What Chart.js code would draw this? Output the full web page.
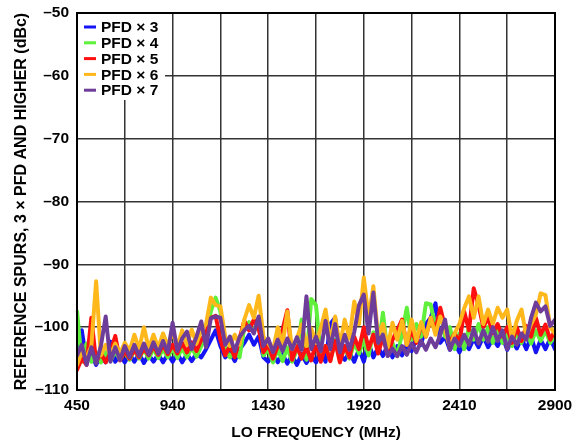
<!DOCTYPE html>
<html lang="en">
<head>
<meta charset="UTF-8">
<title>Reference spurs vs LO frequency</title>
<script src="https://cdn.jsdelivr.net/npm/chart.js"></script>
<style>
  html, body { margin: 0; padding: 0; background: #fff; }
</style>
</head>
<body>
<canvas id="myChart" width="585" height="444"></canvas>
<script>
    // sampling grid of the sweep (MHz)
    const freqStart = 450;
    const freqStep = 24.5;

    const xTicks = [450, 695, 940, 1185, 1430, 1675, 1920, 2165, 2410, 2655, 2900];
    const xLabels = [450, 940, 1430, 1920, 2410, 2900];
    const yTicks = [-110, -100, -90, -80, -70, -60, -50];

    const seriesNames = ['PFD × 3', 'PFD × 4', 'PFD × 5', 'PFD × 6', 'PFD × 7'];
    const seriesColors = ['#1414f5', '#5ef03a', '#ff1010', '#ffb81c', '#6e3d9a'];

    // values, dBc
    const pfd3 = [
        -105.8, -100.5, -105.5, -104.3, -106, -104.5, -105.6, -102.3, -105.5, -104.4,
        -105.6, -104.3, -105.5, -104.2, -105.7, -104.4, -105.5, -104.3, -105.6, -104.3,
        -105.5, -104.2, -105.6, -104.3, -105.4, -104.2, -104.8, -103.5, -102, -100.5,
        -103, -104.8, -104, -105.4, -103.6, -102.5, -101.2, -102.8, -101.5, -104.8,
        -105.5, -104.2, -105.6, -104.3, -105.8, -104.5, -106, -104.3, -105.7, -104.5,
        -105.6, -103.8, -105.5, -99.5, -98.5, -104.5, -105.2, -104, -105.5, -103.5,
        -105.5, -102.5, -104.8, -103.2, -104.6, -102.8, -104.8, -103, -104.5, -102.8,
        -103.8, -101.8, -102.8, -99.5, -98.5, -96.2, -102.5, -101.5, -103.6, -102.5,
        -104, -102.5, -103.5, -101.8, -103.2, -101.5, -103.2, -101.8, -103, -101.5,
        -103.6, -102, -103.4, -101.8, -103.5, -101.5, -104, -102, -103.5, -101.8,
        -103.5
    ];
    const pfd4 = [
        -97.5, -105.5, -102.6, -105.5, -104, -105.6, -104, -105.4, -103.8, -105.2,
        -103.8, -105.2, -103.6, -105, -103.5, -105, -103.4, -104.9, -103.5, -104.8,
        -103.4, -104.9, -103.3, -104.8, -103.2, -104.7, -103, -101.5, -97.5, -95.3,
        -97.5, -103.5, -104.8, -103.6, -104.8, -100, -99.2, -100.8, -98.5, -104.5,
        -103.5, -105.6, -103.5, -105.4, -103.2, -105.5, -103.6, -98.8, -105.2, -95.5,
        -96.5, -104.5, -103, -105.3, -102, -105.2, -103.2, -105, -102.5, -104.2,
        -102, -104.5, -100.8, -103.8, -97.7, -104.2, -102.5, -104.6, -101, -96.9,
        -102, -99.5, -101.5, -96.2, -96.4, -100, -97.5, -101.5, -100, -103.5,
        -101, -103.5, -100, -102, -99.5, -102, -100, -102.5, -100.5, -102.5,
        -101, -103, -100.8, -102.5, -100.5, -102.6, -100.5, -102.2, -100.5, -102.5,
        -101.2
    ];
    const pfd5 = [
        -106.8, -105, -106, -98.5, -105.5, -104.2, -105.6, -104, -101.4, -105.3,
        -103.8, -105, -103.6, -104.8, -103.4, -104.5, -103, -104.4, -102.8, -104.3,
        -102.8, -104.2, -102.5, -104, -102.4, -103.8, -102, -101, -98.5, -98.2,
        -102, -104.5, -103, -104.8, -101.8, -99, -100.5, -98.8, -100.2, -104,
        -102.8, -105, -103, -100.4, -97.3, -105.2, -103, -105, -103.2, -105.3,
        -102.5, -105.5, -103, -105.4, -102.2, -105.6, -103, -104.8, -101.5, -103.5,
        -100, -103.5, -101.2, -104.2, -101.5, -104.5, -102, -100.5, -98.8, -102.8,
        -100.5, -102.5, -99.5, -101.5, -98.5, -100.5, -96.9, -100, -102.5, -101,
        -102.5, -97.5, -100.5, -93.8, -96.5, -100, -98.5, -101, -99.5, -101.5,
        -100, -102.5, -100, -102.2, -99.8, -101.5, -98.5, -101.2, -99.6, -102,
        -100.5
    ];
    const pfd6 = [
        -106, -104, -104.8, -103, -92.7, -104.5, -102.8, -104.5, -102.6, -104.2,
        -102.5, -103.8, -101.2, -103.5, -100, -103.4, -101.2, -103.3, -101, -103,
        -100.8, -103, -100.5, -102.8, -100.4, -102.6, -100.5, -99.5, -95.3, -96.5,
        -96.7, -101.5, -103, -101.2, -102.8, -98.8, -96.5, -98.5, -95, -101.5,
        -102.5, -103.8, -100, -102.8, -97.5, -103.5, -101.8, -99.6, -103, -100.2,
        -102.5, -100.2, -97.2, -102.5, -98.3, -103, -98.8, -101.8, -95.9, -99.5,
        -92.1, -98.5, -93.5, -101.5, -99.5, -103.2, -99.3, -102, -99, -102.8,
        -98.8, -102.2, -99.2, -101.5, -98.5, -101.2, -98.3, -100.5, -103.2, -101,
        -99.5, -97, -95.1, -98.5, -95.1, -99.5, -97.2, -99.5, -96.9, -98.5,
        -97.2, -101.8, -99, -97.2, -101.5, -99.5, -98, -94.6, -94.9, -100,
        -101
    ];
    const pfd7 = [
        -104.5, -102.8, -106, -103.2, -105.8, -103, -98.3, -105.5, -103.2, -105.2,
        -103, -104.8, -102.8, -104.6, -102.6, -104.4, -102.4, -104.2, -102.2, -104,
        -99.3, -103.8, -101.8, -100.7, -103.5, -101.5, -99.1, -103.2, -98.6, -98.3,
        -98.5, -102.8, -101.5, -103.8, -101.6, -100.5, -99.8, -101, -98.3, -103,
        -101.8, -104, -102, -103.8, -101.8, -103.5, -101.6, -103.6, -95.1, -103.5,
        -101.5, -103.8, -99, -103.5, -99.5, -104, -101.2, -103.6, -100.8, -96.5,
        -94.8, -101, -94.5, -102.5, -101.2, -104.6, -103.4, -104.6, -103, -104.4,
        -102.6, -104, -102.2, -103.6, -101.8, -103.2, -101.2, -98.8, -103.6, -101.8,
        -103, -101.2, -102.8, -100.3, -102.6, -100.5, -102.3, -100, -102.2, -100.5,
        -103.5, -101.5, -102.8, -101, -102, -98.5, -96.1, -97.5, -96.7, -99.8,
        -98.8
    ];

    const allSeries = [pfd3, pfd4, pfd5, pfd6, pfd7];
    const fontFamily = '"Liberation Sans", Arial, Helvetica, sans-serif';

    function toPoints(values) {
        return values.map((v, i) => ({ x: freqStart + i * freqStep, y: v }));
    }

    // legend inside the plot + black frame
    const frameAndLegend = {
        id: 'frameAndLegend',
        afterDraw(chart) {
            const ctx = chart.ctx;
            const a = chart.chartArea;
            ctx.save();
            ctx.fillStyle = '#fff';
            ctx.fillRect(a.left, a.top, 88, 87);
            ctx.font = 'bold 15.5px ' + fontFamily;
            ctx.textBaseline = 'middle';
            ctx.textAlign = 'left';
            for (let k = 0; k < seriesNames.length; k++) {
                const y = a.top + 14 + k * 15.8;
                ctx.strokeStyle = seriesColors[k];
                ctx.lineWidth = 3;
                ctx.beginPath();
                ctx.moveTo(a.left + 7, y);
                ctx.lineTo(a.left + 19, y);
                ctx.stroke();
                ctx.fillStyle = '#000';
                ctx.fillText(seriesNames[k], a.left + 24, y + 1);
            }
            ctx.strokeStyle = '#000';
            ctx.lineWidth = 2;
            ctx.strokeRect(a.left, a.top, a.right - a.left, a.bottom - a.top);
            ctx.restore();
        }
    };

    const datasets = allSeries.map((vals, k) => ({
        label: seriesNames[k],
        data: toPoints(vals),
        borderColor: seriesColors[k],
        backgroundColor: seriesColors[k],
        borderWidth: 4,
        borderJoinStyle: 'round',
        borderCapStyle: 'round',
        pointRadius: 0,
        tension: 0,
        fill: false,
        order: allSeries.length - k
    }));

    new Chart(document.getElementById('myChart'), {
        type: 'line',
        data: { datasets: datasets },
        options: {
            responsive: false,
            animation: false,
            layout: { padding: { top: 13, right: 30, left: 0, bottom: 0 } },
            plugins: {
                legend: { display: false },
                tooltip: { enabled: false }
            },
            scales: {
                x: {
                    type: 'linear',
                    min: 450,
                    max: 2900,
                    afterBuildTicks: (scale) => { scale.ticks = xTicks.map(v => ({ value: v })); },
                    afterFit: (scale) => {
                        scale.height = 54;
                        scale.paddingLeft = 0;
                        scale.paddingRight = 0;
                    },
                    ticks: {
                        autoSkip: false,
                        maxRotation: 0,
                        padding: 6,
                        color: '#000',
                        font: { family: fontFamily, size: 15.5, weight: 'bold' },
                        callback: (v) => xLabels.includes(v) ? String(v) : ''
                    },
                    grid: { color: '#333', lineWidth: 1.5, drawTicks: false },
                    border: { color: '#000', width: 2 },
                    title: {
                        display: true,
                        text: 'LO FREQUENCY (MHz)',
                        color: '#000',
                        font: { family: fontFamily, size: 15.5, weight: 'bold' },
                        padding: { top: 0, bottom: 2 }
                    }
                },
                y: {
                    min: -110,
                    max: -50,
                    afterBuildTicks: (scale) => { scale.ticks = yTicks.map(v => ({ value: v })); },
                    afterFit: (scale) => {
                        scale.width = 77;
                        scale.paddingTop = 0;
                        scale.paddingBottom = 0;
                    },
                    ticks: {
                        padding: 8,
                        color: '#000',
                        font: { family: fontFamily, size: 15.5, weight: 'bold' },
                        callback: (v) => '\u2013' + Math.abs(v)
                    },
                    grid: { color: '#333', lineWidth: 1.5, drawTicks: false },
                    border: { color: '#000', width: 2 },
                    title: {
                        display: true,
                        text: 'REFERENCE SPURS, 3 × PFD AND HIGHER (dBc)',
                        color: '#000',
                        font: { family: fontFamily, size: 16, weight: 'bold' },
                        padding: { top: 12, bottom: 0 }
                    }
                }
            }
        },
        plugins: [frameAndLegend]
    });
</script>
</body>
</html>
